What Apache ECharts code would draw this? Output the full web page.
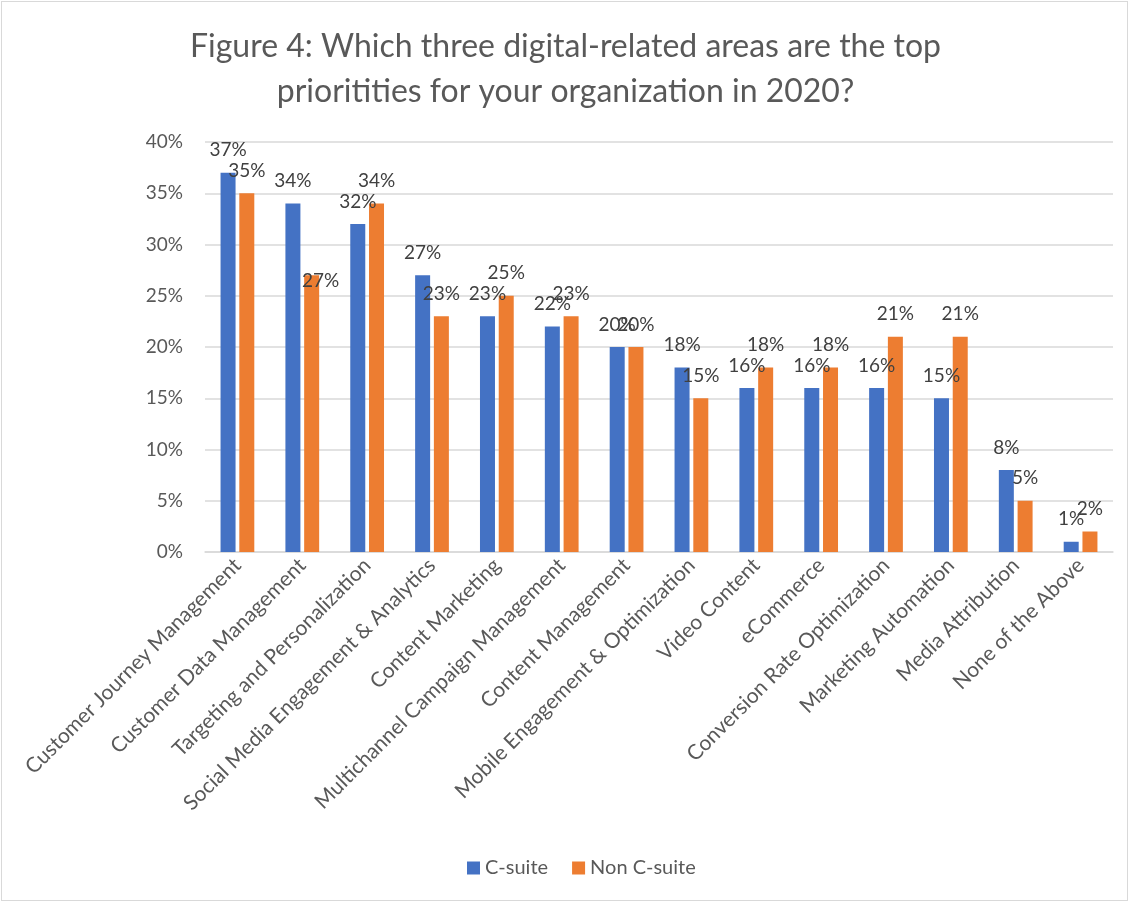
<!DOCTYPE html>
<html>
<head>
<meta charset="utf-8">
<script src="https://cdn.jsdelivr.net/npm/echarts@6/dist/echarts.min.js"></script>
<style>
html,body{margin:0;padding:0;background:#fff;}
#frame{position:absolute;left:1px;top:1px;width:1127px;height:900px;border:1px solid #d9d9d9;box-sizing:border-box;}
#chart{position:absolute;left:0;top:0;width:1131px;height:904px;}
</style>
</head>
<body>
<div id="frame"></div>
<div id="chart"></div>
<script>
const titleLines = ["Figure 4: Which three digital-related areas are the top", "prioritities for your organization in 2020?"];
const categories = ["Customer Journey Management","Customer Data Management","Targeting and Personalization","Social Media Engagement & Analytics","Content Marketing","Multichannel Campaign Management","Content Management","Mobile Engagement & Optimization","Video Content","eCommerce","Conversion Rate Optimization","Marketing Automation","Media Attribution","None of the Above"];
const seriesNames = ["C-suite","Non C-suite"];
const cSuite = [37,34,32,27,23,22,20,18,16,16,16,15,8,1];
const nonCSuite = [35,27,34,23,25,23,20,15,18,18,21,21,5,2];
const yTicks = [0,5,10,15,20,25,30,35,40];

const FONT = 'Lato';
const txt = '#595959';
const lbl = {show:true, position:'top', distance:13, formatter:'{c}%', color:'#404040', fontFamily:FONT, fontSize:19};

const nonData = nonCSuite.map((v,i)=> i===1 ? {value:v, label:{offset:[9,28]}} : v);

const chart = echarts.init(document.getElementById('chart'), null, {renderer:'canvas'});
chart.setOption({
  animation:false,
  title:{text:titleLines.join('\n'), left:'center', top:19, textStyle:{fontFamily:FONT, fontSize:32, fontWeight:'normal', color:txt, lineHeight:45}},
  grid:{left:205, right:18, top:142, bottom:352, containLabel:false},
  legend:{data:seriesNames, bottom:21, left:462, itemWidth:13, itemHeight:13, itemGap:24, icon:'rect', textStyle:{fontFamily:FONT, fontSize:20, color:txt}},
  xAxis:{type:'category', data:categories,
    axisLine:{lineStyle:{color:'#d9d9d9', width:1.5}}, axisTick:{show:false},
    axisLabel:{rotate:45, interval:0, margin:10, fontFamily:FONT, fontSize:21, color:txt}},
  yAxis:{type:'value', min:yTicks[0], max:yTicks[yTicks.length-1], interval:5,
    axisLine:{show:false}, axisTick:{show:false},
    splitLine:{lineStyle:{color:'#d9d9d9', width:1.5}},
    axisLabel:{formatter:'{value}%', margin:22, fontFamily:FONT, fontSize:19, color:txt}},
  series:[
    {name:seriesNames[0], type:'bar', data:cSuite, barWidth:15, barGap:'25%', itemStyle:{color:'#4472C4'}, label:lbl},
    {name:seriesNames[1], type:'bar', data:nonData, barWidth:15, itemStyle:{color:'#ED7D31'}, label:lbl}
  ]
});
</script>
</body>
</html>
